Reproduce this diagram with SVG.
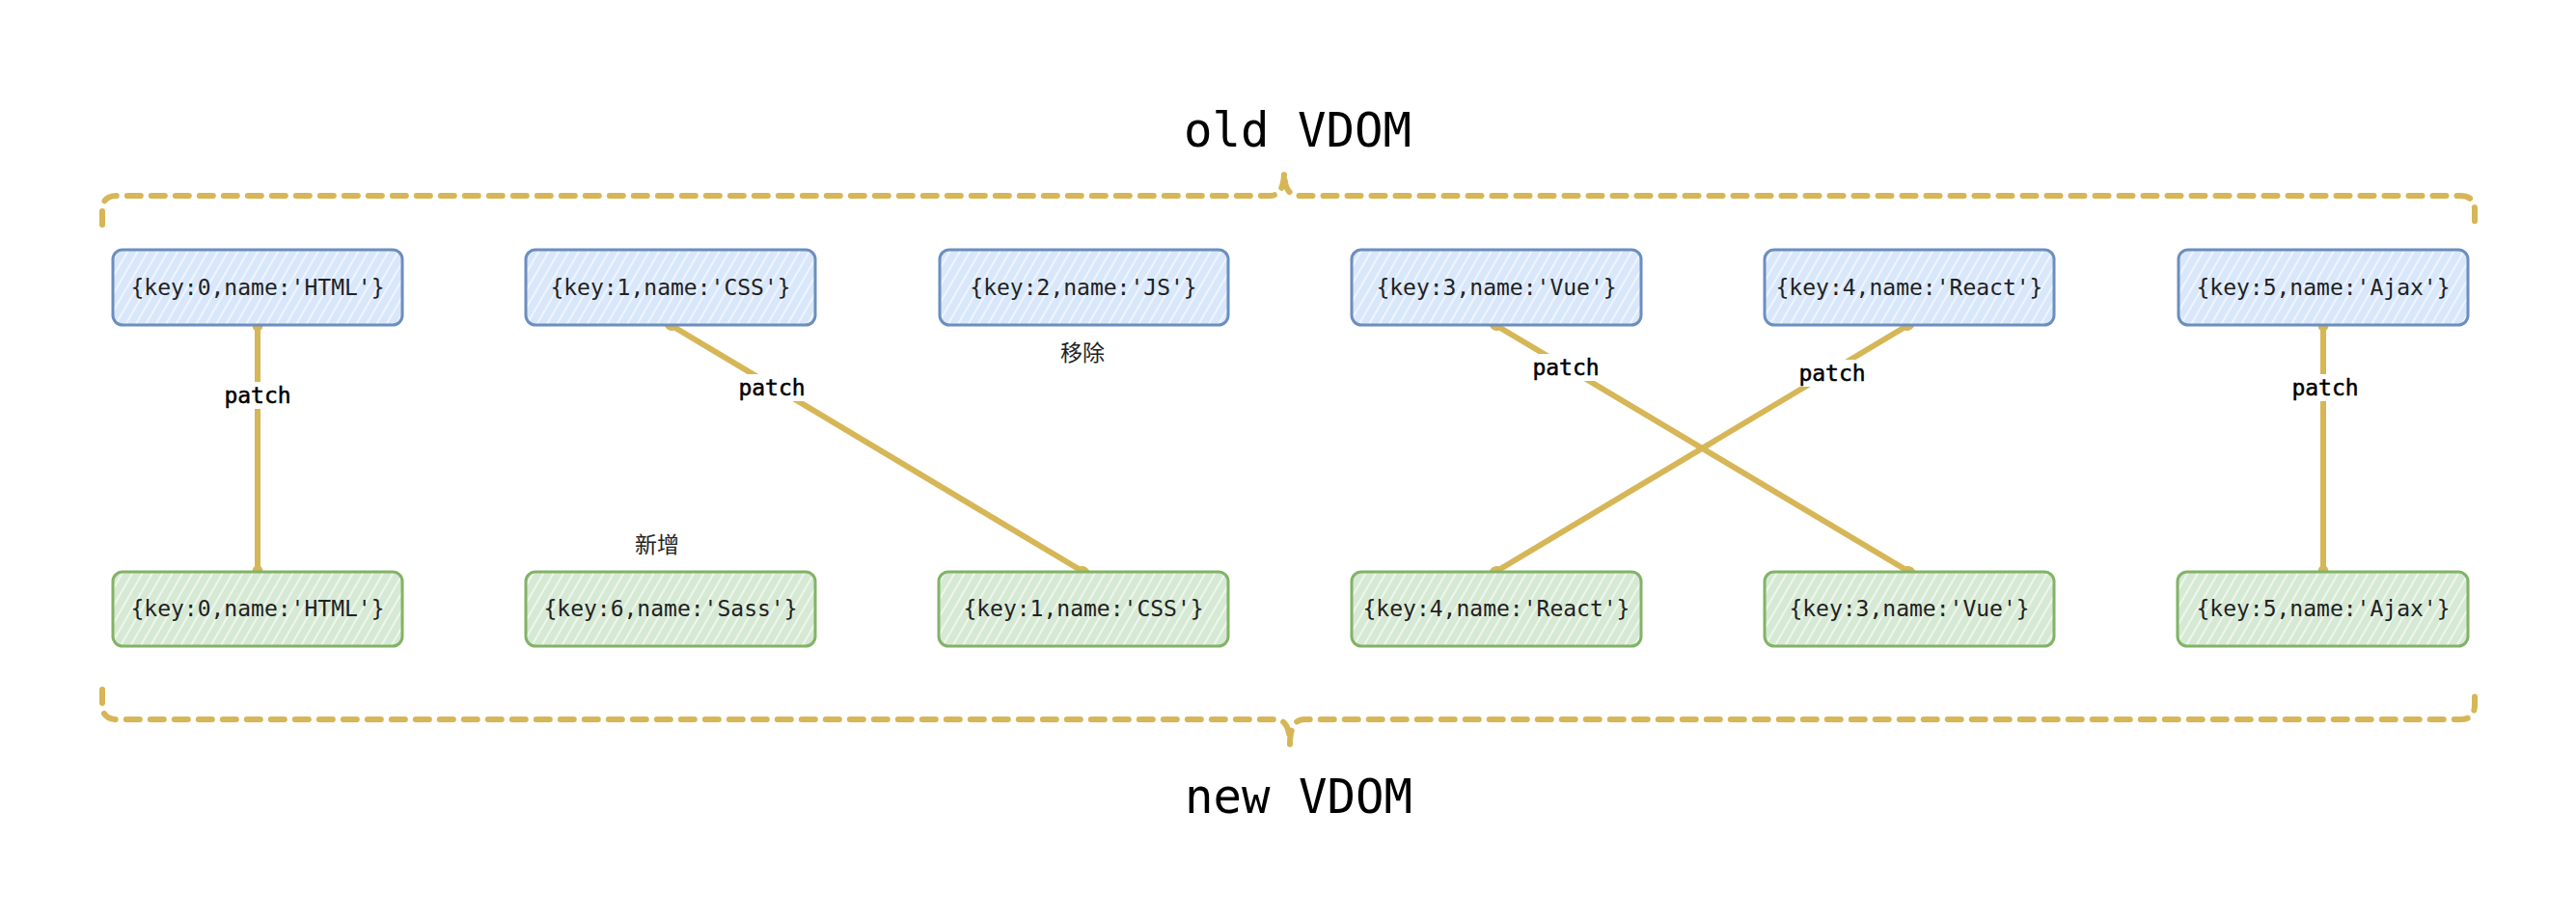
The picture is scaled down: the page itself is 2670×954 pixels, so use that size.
<svg xmlns="http://www.w3.org/2000/svg" width="2670" height="954" viewBox="0 0 2670 954">
<defs>
<pattern id="hb" patternUnits="userSpaceOnUse" width="9" height="9" patternTransform="rotate(30)">
<rect width="9" height="9" fill="#d9e7fb"/>
<line x1="2" y1="0" x2="2" y2="9" stroke="#eef5fe" stroke-width="2"/>
</pattern>
<pattern id="hg" patternUnits="userSpaceOnUse" width="9" height="9" patternTransform="rotate(30)">
<rect width="9" height="9" fill="#d6e9d4"/>
<line x1="2" y1="0" x2="2" y2="9" stroke="#eef6ed" stroke-width="2"/>
</pattern>
<marker id="dot" markerUnits="userSpaceOnUse" markerWidth="18" markerHeight="18" refX="9" refY="9" orient="auto">
<ellipse cx="9" cy="9" rx="7" ry="5.5" fill="#d6b656"/>
</marker>
</defs>
<style>
.old rect{fill:url(#hb);stroke:#6c8ebf;stroke-width:3}
.new rect{fill:url(#hg);stroke:#82b366;stroke-width:3}
.nt{font-family:"DejaVu Sans Mono","Liberation Mono",monospace;font-size:23px;fill:#222;text-anchor:middle;dominant-baseline:central}
.title{font-family:"DejaVu Sans Mono","Liberation Mono",monospace;font-size:49px;fill:#000;text-anchor:middle}
.cn{font-family:"Noto Sans CJK SC","DejaVu Sans",sans-serif;font-size:23px;fill:#222;text-anchor:middle;dominant-baseline:central}
.edge{stroke:#d6b656;stroke-width:6;fill:none;marker-start:url(#dot);marker-end:url(#dot)}
.lbl{font-family:"DejaVu Sans Mono","Liberation Mono",monospace;font-size:23px;fill:#000;stroke:#000;stroke-width:0.5;text-anchor:middle;dominant-baseline:central}
.brace{stroke:#d6b656;stroke-width:6;fill:none;stroke-dasharray:14 11;stroke-linecap:round}
</style>
<g id="titles">
<text class="title" x="1345" y="152">old VDOM</text>
<text class="title" x="1346" y="843">new VDOM</text>
</g>
<g id="braces">
<path class="brace" d="M106,233 L106,218 Q106,203 121,203 L1316,203 Q1331,203 1331,178 Q1331,203 1346,203 L2550,203 Q2565,203 2565,218 L2565,235"/>
<path class="brace" d="M106,715 L106,731 Q106,746 121,746 L1322,746 Q1337,746 1337,772 Q1337,746 1352,746 L2550,746 Q2565,746 2565,731 L2565,715"/>
</g>
<g id="connectors">
<line class="edge" x1="267" y1="337" x2="267" y2="593"/>
<line class="edge" x1="695" y1="337" x2="1123" y2="593"/>
<line class="edge" x1="1550" y1="337" x2="1979" y2="593"/>
<line class="edge" x1="1978" y1="337" x2="1550" y2="593"/>
<line class="edge" x1="2408" y1="337" x2="2408" y2="593"/>
<g id="labels">
<rect x="230" y="396" width="74" height="28" fill="#fff"/><text class="lbl" x="267" y="410">patch</text>
<rect x="763" y="388" width="74" height="28" fill="#fff"/><text class="lbl" x="800" y="402">patch</text>
<rect x="1586" y="367" width="74" height="28" fill="#fff"/><text class="lbl" x="1623" y="381">patch</text>
<rect x="1862" y="373" width="74" height="28" fill="#fff"/><text class="lbl" x="1899" y="387">patch</text>
<rect x="2373" y="388" width="74" height="28" fill="#fff"/><text class="lbl" x="2410" y="402">patch</text>
</g>
</g>
<g id="old-0" class="old"><rect x="117" y="259" width="300" height="78" rx="10"/><text class="nt" x="267" y="298">{key:0,name:'HTML'}</text></g>
<g id="old-1" class="old"><rect x="545" y="259" width="300" height="78" rx="10"/><text class="nt" x="695" y="298">{key:1,name:'CSS'}</text></g>
<g id="old-2" class="old"><rect x="974" y="259" width="299" height="78" rx="10"/><text class="nt" x="1123" y="298">{key:2,name:'JS'}</text></g>
<g id="old-3" class="old"><rect x="1401" y="259" width="300" height="78" rx="10"/><text class="nt" x="1551" y="298">{key:3,name:'Vue'}</text></g>
<g id="old-4" class="old"><rect x="1829" y="259" width="300" height="78" rx="10"/><text class="nt" x="1979" y="298">{key:4,name:'React'}</text></g>
<g id="old-5" class="old"><rect x="2258" y="259" width="300" height="78" rx="10"/><text class="nt" x="2408" y="298">{key:5,name:'Ajax'}</text></g>
<g id="new-0" class="new"><rect x="117" y="593" width="300" height="77" rx="10"/><text class="nt" x="267" y="631">{key:0,name:'HTML'}</text></g>
<g id="new-6" class="new"><rect x="545" y="593" width="300" height="77" rx="10"/><text class="nt" x="695" y="631">{key:6,name:'Sass'}</text></g>
<g id="new-1" class="new"><rect x="973" y="593" width="300" height="77" rx="10"/><text class="nt" x="1123" y="631">{key:1,name:'CSS'}</text></g>
<g id="new-4" class="new"><rect x="1401" y="593" width="300" height="77" rx="10"/><text class="nt" x="1551" y="631">{key:4,name:'React'}</text></g>
<g id="new-3" class="new"><rect x="1829" y="593" width="300" height="77" rx="10"/><text class="nt" x="1979" y="631">{key:3,name:'Vue'}</text></g>
<g id="new-5" class="new"><rect x="2257" y="593" width="301" height="77" rx="10"/><text class="nt" x="2408" y="631">{key:5,name:'Ajax'}</text></g>
<g id="notes">
<text class="cn" x="1122" y="364">移除</text>
<text class="cn" x="681" y="563">新增</text>
</g>
</svg>
